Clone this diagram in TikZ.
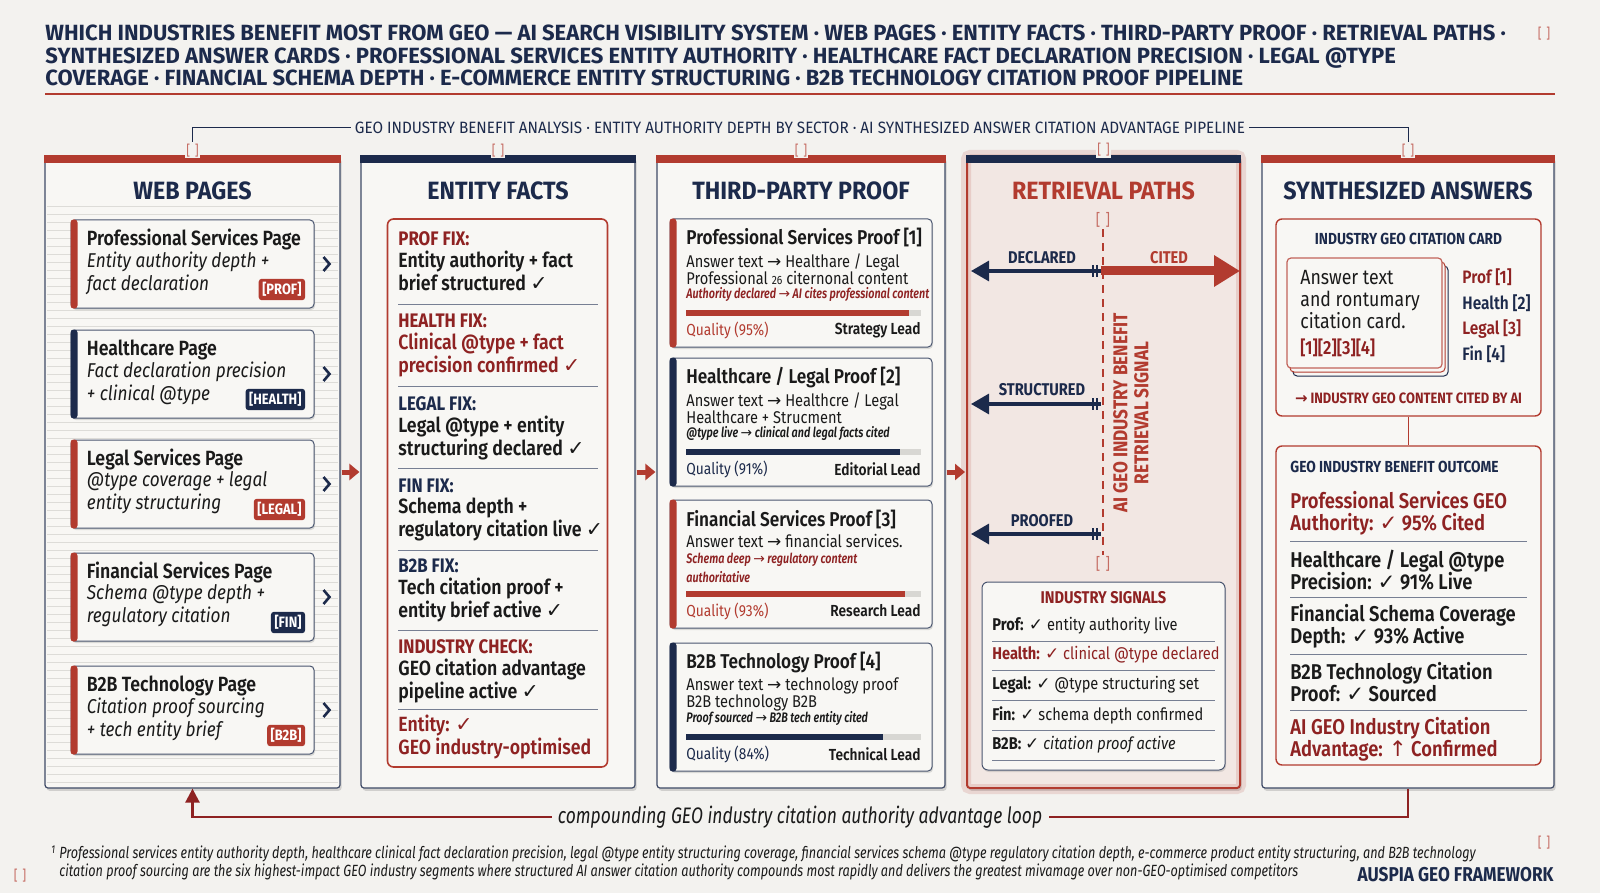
\documentclass[tikz,border=0pt]{standalone}
\usepackage{fontspec}
\setmainfont{Fira Sans}[FakeStretch=0.86]
\newfontfamily\semi{Fira Sans SemiBold}[FakeStretch=0.86]
\newfontfamily\semicond{Fira Sans SemiBold}[FakeStretch=0.78]
\newfontfamily\cond{Fira Sans}[FakeStretch=0.78]
\newfontfamily\hdr{Fira Sans}[FakeStretch=0.93]
\newfontfamily\ttl{Fira Sans}
\newfontfamily\sym{DejaVu Sans}
\usetikzlibrary{calc, shadows, arrows.meta, positioning}

\definecolor{navy}{HTML}{1C2A4B}
\definecolor{accent}{HTML}{B23B2F}
\definecolor{darkred}{HTML}{8E2222}
\definecolor{ink}{HTML}{1A1A1A}
\definecolor{paper}{HTML}{F3F2EF}
\definecolor{cardfill}{HTML}{F8F7F4}
\definecolor{blush}{HTML}{F2E7E3}
\definecolor{rule}{HTML}{CFCDC8}

\newcommand\ck{{\sym ✓}}
\newcommand\ra{{\sym →}}
\newcommand\up{{\sym ↑}}
\newcommand\fs[2]{\fontsize{#1}{#2}\selectfont}

\begin{document}
\begin{tikzpicture}[x=0.5pt, y=-0.5pt,
  txt/.style={inner sep=0pt, align=left},
  col/.style={draw=navy!85, line width=0.6pt, fill=cardfill, rounded corners=1.5pt,
    minimum height=316pt, drop shadow={opacity=0.3, shadow xshift=0.8pt, shadow yshift=-1.4pt}},
  colhead/.style={font=\hdr\bfseries\fs{12.5}{14}, text=navy},
  bracketmark/.style={fill=paper, text=accent!75, font=\fs{7}{8}, inner sep=0.6pt},
  pagecard/.style={draw=navy!80, line width=0.5pt, fill=cardfill, rounded corners=2pt,
    drop shadow={opacity=0.25, shadow xshift=0.5pt, shadow yshift=-1pt}},
  tag/.style={fill=#1, text=white, font=\bfseries\fs{7.5}{8}, rounded corners=1.5pt, inner sep=1.8pt},
  sepline/.style={navy!60, line width=0.4pt},
  navarrow/.style={navy, line width=1.6pt, -{Triangle[length=9pt,width=10pt]}},
  pathlab/.style={font=\bfseries\fs{8.5}{10}, text=navy},
  loopline/.style={darkred, line width=1.2pt}]

\fill[paper] (0,0) rectangle (1600,893);
\useasboundingbox (0,0) rectangle (1600,893);

% title
\foreach \i/\y/\t in {1/41/{WHICH INDUSTRIES BENEFIT MOST FROM GEO — AI SEARCH VISIBILITY SYSTEM · WEB PAGES · ENTITY FACTS · THIRD-PARTY PROOF · RETRIEVAL PATHS ·},
    2/64/{SYNTHESIZED ANSWER CARDS · PROFESSIONAL SERVICES ENTITY AUTHORITY · HEALTHCARE FACT DECLARATION PRECISION · LEGAL @TYPE},
    3/86/{COVERAGE · FINANCIAL SCHEMA DEPTH · E-COMMERCE ENTITY STRUCTURING · B2B TECHNOLOGY CITATION PROOF PIPELINE}}
  \node[txt, anchor=base west, text=navy, font=\ttl\bfseries\fs{11}{12}] (title\i) at (45,\y) {\t};
\node[bracketmark] (mktitle) at (1544,34) {[\,\,]};
\draw[accent, line width=0.8pt] (45,94) -- (1555,94);

% columns
\node[col, minimum width=147.5pt] (web) at (192.5,472) {};
\node[col, minimum width=137pt] (facts) at (498,472) {};
\node[col, minimum width=144pt] (proof) at (801,472) {};
\node[col, minimum width=136.5pt, fill=blush, draw=accent, line width=1pt] (paths) at (1103.5,472) {};
\node[col, minimum width=146pt] (answers) at (1408,472) {};
\draw[accent, opacity=0.15, line width=5pt, rounded corners=2pt] (paths.north west) rectangle (paths.south east);

\foreach \c/\k in {web/accent, facts/navy, proof/accent, paths/navy, answers/accent}
  \draw[\k, line width=4pt] ([yshift=-2pt]\c.north west) -- ([yshift=-2pt]\c.north east);

\foreach \c/\i in {web/1, facts/2, proof/3, paths/4, answers/5}
  \node[bracketmark] (mk\i) at ([yshift=2.5pt]\c.north) {[\,\,]};

\node[fill=paper, text=navy, font=\hdr\fs{8.2}{9}, inner sep=2pt] (banner) at (800,128)
  {GEO INDUSTRY BENEFIT ANALYSIS · ENTITY AUTHORITY DEPTH BY SECTOR · AI SYNTHESIZED ANSWER CITATION ADVANTAGE PIPELINE};
\draw[navy, line width=0.5pt] (banner.west) -| (mk1.north);
\draw[navy, line width=0.5pt] (banner.east) -| (mk5.north);

\node[colhead] (webh) at (192.5,191) {WEB PAGES};
\node[colhead] (factsh) at (498,191) {ENTITY FACTS};
\node[colhead] (proofh) at (801,191) {THIRD-PARTY PROOF};
\node[colhead, text=accent] (pathsh) at (1103.5,191) {RETRIEVAL PATHS};
\node[colhead] (answersh) at (1408,191) {SYNTHESIZED ANSWERS};

% web pages
\foreach \y in {206,214,...,782}
  \draw[rule!70, line width=0.3pt] (47,\y) -- (338,\y);
\foreach \i/\cy/\ac/\ptl/\pla/\plb/\tg/\tgc in {
    1/264/accent/Professional Services Page/Entity authority depth +/fact declaration/PROF/accent,
    2/374/navy/Healthcare Page/Fact declaration precision/+ clinical @type/HEALTH/navy,
    3/484/accent/Legal Services Page/@type coverage + legal/entity structuring/LEGAL/accent,
    4/597/accent/Financial Services Page/Schema @type depth +/regulatory citation/FIN/navy,
    5/710/accent/B2B Technology Page/Citation proof sourcing/+ tech entity brief/B2B/accent} {
  \node[pagecard, minimum width=121.5pt, minimum height=44pt] (pg\i) at (192.5,\cy) {};
  \fill[\ac, rounded corners=1.5pt] (pg\i.north west) rectangle ([xshift=3.5pt]pg\i.south west);
  \node[txt, anchor=west, text=ink, font=\semi\fs{10.3}{11}] (pgt\i) at ($(pg\i.north west)+(16,20)$) {\ptl};
  \node[txt, anchor=north west, text=ink, font=\itshape\fs{10}{11.5}] (pgi\i) at ($(pg\i.north west)+(16,32)$) {\pla\\\plb};
  \node[tag=\tgc, anchor=east] (pgtag\i) at ($(pg\i.north east)+(-9,70)$) {[\tg]};
  \draw[navy, line width=1.3pt] ($(pg\i.east)+(9,-7)$) -- ++(6,7) -- ++(-6,7);
}

% entity facts
\node[draw=accent, line width=0.8pt, fill=cardfill, rounded corners=3pt,
  minimum width=110pt, minimum height=274pt] (fixbox) at (497.5,493) {};
\foreach \i/\ly/\lab/\lc/\txt/\tc in {
    1/239/PROF FIX:/darkred/{Entity authority + fact\\brief structured \ck}/ink,
    2/321/HEALTH FIX:/darkred/{Clinical @type + fact\\precision confirmed \ck}/darkred,
    3/404/LEGAL FIX:/navy/{Legal @type + entity\\structuring declared \ck}/ink,
    4/486/FIN FIX:/navy/{Schema depth +\\regulatory citation live \ck}/ink,
    5/566/B2B FIX:/navy/{Tech citation proof +\\entity brief active \ck}/ink,
    6/647/INDUSTRY CHECK:/darkred/{GEO citation advantage\\pipeline active \ck}/ink} {
  \node[txt, anchor=west, text=\lc, font=\bfseries\fs{9.8}{10}] (fl\i) at (398,\ly) {\lab};
  \node[txt, anchor=north west, text=\tc, font=\semi\fs{10.3}{11.5}] (ft\i) at (398,\ly+12) {\txt};
}
\node[txt, anchor=north west, text=darkred, font=\semi\fs{10.3}{11.5}] (ent) at (398,715)
  {Entity: \ck\\GEO industry-optimised};
\foreach \y in {304,386,468,550,630,709}
  \draw[sepline] (398,\y) -- (598,\y);

% third-party proof
\foreach \i/\top/\ac/\ptitle/\pbody/\pital/\picol/\pq/\plead in {
    1/219/accent/{Professional Services Proof [1]}/{Answer text \ra\ Healthare / Legal\\Professional {\fs{6}{7}26} citernonal content}/{Authority declared \ra\ AI cites professional content}/darkred/95/Strategy Lead,
    2/358/navy/{Healthcare / Legal Proof [2]}/{Answer text \ra\ Healthcre / Legal\\Healthcare + Strucment}/{@type live \ra\ clinical and legal facts cited}/ink/91/Editorial Lead,
    3/500/accent/{Financial Services Proof [3]}/{Answer text \ra\ financial services.}/{Schema deep \ra\ regulatory content\\authoritative}/darkred/93/Research Lead,
    4/643/navy/{B2B Technology Proof [4]}/{Answer text \ra\ technology proof\\B2B technology B2B}/{Proof sourced \ra\ B2B tech entity cited}/ink/84/Technical Lead} {
  \node[pagecard, minimum width=131pt, minimum height=64pt] (pr\i) at (801,\top+64) {};
  \fill[\ac, rounded corners=1.5pt] (pr\i.north west) rectangle ([xshift=3.5pt]pr\i.south west);
  \node[txt, anchor=west, text=ink, font=\semi\fs{10}{12}] (prt\i) at (686,\top+19) {\ptitle};
  \node[txt, anchor=north west, text=ink, font=\fs{8.5}{8.5}] (prb\i) at (686,\top+34) {\pbody};
  \node[txt, anchor=south west, text=\picol, font=\semicond\itshape\fs{6.9}{9.5}] (pri\i) at (686,\top+83) {\pital};
  \fill[rule!80] (686,\top+91) rectangle (921,\top+97);
  \fill[\ac] (686,\top+91) rectangle ({686+2.35*\pq},\top+97);
  \node[txt, anchor=west, text=\ac, font=\fs{8}{9}] (prq\i) at (686,\top+111) {Quality (\pq\%)};
  \node[txt, anchor=east, text=ink, font=\semi\fs{8}{9}] (prl\i) at (921,\top+111) {\plead};
}

% retrieval paths
\node[bracketmark, fill=blush, font=\fs{8}{9}] (ax1) at (1103,220) {[\,\,]};
\node[bracketmark, fill=blush, font=\fs{8}{9}] (ax2) at (1103,564) {[\,\,]};
\draw[accent, line width=1.2pt, dash pattern=on 4pt off 3pt] (ax1.south) -- (ax2.north);
\coordinate (d0) at (1101,271); \coordinate (d1) at (971,271); \coordinate (c1) at (1240,271);
\coordinate (s0) at (1101,404); \coordinate (s1) at (971,404);
\coordinate (p0) at (1101,534); \coordinate (p1) at (971,534);
\draw[accent, line width=4.5pt, -{Triangle[length=13pt,width=15pt]}] (d0) -- (c1);
\draw[navarrow] (d0) -- (d1);
\draw[navarrow] (s0) -- (s1);
\draw[navarrow] (p0) -- (p1);
\foreach \y in {271,404,534}
  \draw[navy, line width=0.9pt] (1093,\y-6) -- (1093,\y+6) (1097,\y-6) -- (1097,\y+6);
\node[pathlab] (decl) at (1042,258) {DECLARED};
\node[pathlab, text=accent] (cited) at (1169,258) {CITED};
\node[pathlab] (struct) at (1042,390) {STRUCTURED};
\node[pathlab] (proofed) at (1042,521) {PROOFED};
\node[rotate=90, align=center, text=accent, font=\bfseries\fs{10}{10.5}, inner sep=0pt] (signal) at (1131,413)
  {AI GEO INDUSTRY BENEFIT\\RETRIEVAL SIGNAL};

\node[pagecard, minimum width=121.5pt, minimum height=94pt, rounded corners=3pt] (signals) at (1103.5,676) {};
\node[text=darkred, font=\bfseries\fs{8.5}{10}] (sigh) at (1103.5,598) {INDUSTRY SIGNALS};
\foreach \i/\y/\t/\c in {1/626/{\textbf{Prof:} \ck\ entity authority live}/ink,
    2/655/{\textbf{Health:} \ck\ clinical @type declared}/darkred,
    3/685/{\textbf{Legal:} \ck\ @type structuring set}/ink,
    4/715/{\textbf{Fin:} \ck\ schema depth confirmed}/ink,
    5/745/{\textbf{B2B:} \ck\ \textit{citation proof active}}/ink} {
  \node[txt, anchor=west, text=\c, font=\fs{8.5}{10}] (sig\i) at (992,\y) {\t};
  \draw[sepline] (992,\y+15) -- (1215,\y+15);
}

% synthesized answers
\node[draw=accent, line width=0.7pt, fill=cardfill, rounded corners=3pt,
  minimum width=132.5pt, minimum height=98.5pt] (citecard) at (1408.5,317.5) {};
\node[text=navy, font=\bfseries\fs{8}{9}] (citeh) at (1408.5,239) {INDUSTRY GEO CITATION CARD};
\draw[navy, fill=cardfill, rounded corners=2pt, line width=0.5pt] (1293,266) rectangle (1448,376);
\draw[accent, fill=cardfill, rounded corners=2pt, line width=0.5pt] (1290,262) rectangle (1445,372);
\node[draw=accent!80, line width=0.6pt, fill=cardfill, rounded corners=2pt,
  minimum width=77.5pt, minimum height=55pt] (stack) at (1364.5,313) {};
\node[txt, anchor=north west, text=ink, font=\fs{10.3}{11}] (stacktxt) at (1300,270)
  {Answer text\\and rontumary\\citation card.};
\node[txt, anchor=west, text=darkred, font=\semi\fs{9.5}{11}] (stackref) at (1300,348) {[1][2][3][4]};
\foreach \i/\y/\t/\c in {1/277/Prof [1]/darkred, 2/303/Health [2]/navy, 3/329/Legal [3]/darkred, 4/354/Fin [4]/navy}
  \node[txt, anchor=west, text=\c, font=\semi\fs{9}{10}] (cl\i) at (1462,\y) {\t};
\node[text=darkred, font=\bfseries\fs{7.5}{9}] (citedby) at (1408.5,398) {\ra\ INDUSTRY GEO CONTENT CITED BY AI};

\node[draw=accent, line width=0.7pt, fill=cardfill, rounded corners=3pt,
  minimum width=132.5pt, minimum height=159.5pt] (outcome) at (1408.5,605.5) {};
\draw[accent, line width=0.6pt] (citecard.south) -- (outcome.north);
\node[txt, anchor=west, text=navy, font=\bfseries\fs{8}{9}] (outh) at (1290,467) {GEO INDUSTRY BENEFIT OUTCOME};
\foreach \i/\y/\t/\c in {1/513.5/{Professional Services GEO\\Authority: \ck\ 95\% Cited}/darkred,
    2/570/{Healthcare / Legal @type\\Precision: \ck\ 91\% Live}/ink,
    3/626/{Financial Schema Coverage\\Depth: \ck\ 93\% Active}/ink,
    4/682/{B2B Technology Citation\\Proof: \ck\ Sourced}/ink,
    5/739/{AI GEO Industry Citation\\Advantage: \up\ Confirmed}/darkred}
  \node[txt, anchor=west, text=\c, font=\semi\fs{10.7}{11}] (oc\i) at (1290,\y) {\t};
\foreach \y in {541,597,654,710}
  \draw[sepline] (1290,\y) -- (1527,\y);

% flow between columns
\foreach \a/\b in {web/facts, facts/proof, proof/paths}
  \draw[accent, line width=2.5pt, -{Triangle[length=5pt,width=8pt]}] ([xshift=0.5pt]\a.east) -- ([xshift=-0.5pt]\b.west);

% loop
\node[text=ink, font=\cond\itshape\fs{11.2}{12}, inner sep=3pt] (looptxt) at (800,817)
  {compounding GEO industry citation authority advantage loop};
\draw[loopline] (answers.south) |- (looptxt.east);
\draw[loopline, -{Triangle[length=7pt,width=7pt]}] (looptxt.west) -| (web.south);

% footer
\node[txt, anchor=west, text=ink, font=\cond\itshape\fs{8.1}{9}] (note) at (51,863)
  {\textsuperscript{1} Professional services entity authority depth, healthcare clinical fact declaration precision, legal @type entity structuring coverage, financial services schema @type regulatory citation depth, e-commerce product entity structuring, and B2B technology\\
  \hphantom{\textsuperscript{1} }citation proof sourcing are the six highest-impact GEO industry segments where structured AI answer citation authority compounds most rapidly and delivers the greatest mivamage over non-GEO-optimised competitors};
\node[txt, anchor=east, text=navy, font=\bfseries\fs{10}{10}] (brand) at (1554,875) {AUSPIA GEO FRAMEWORK};
\node[bracketmark] (mkfoot1) at (1544,843) {[\,\,]};
\node[bracketmark] (mkfoot2) at (20,876) {[\,\,]};
\end{tikzpicture}
\end{document}
